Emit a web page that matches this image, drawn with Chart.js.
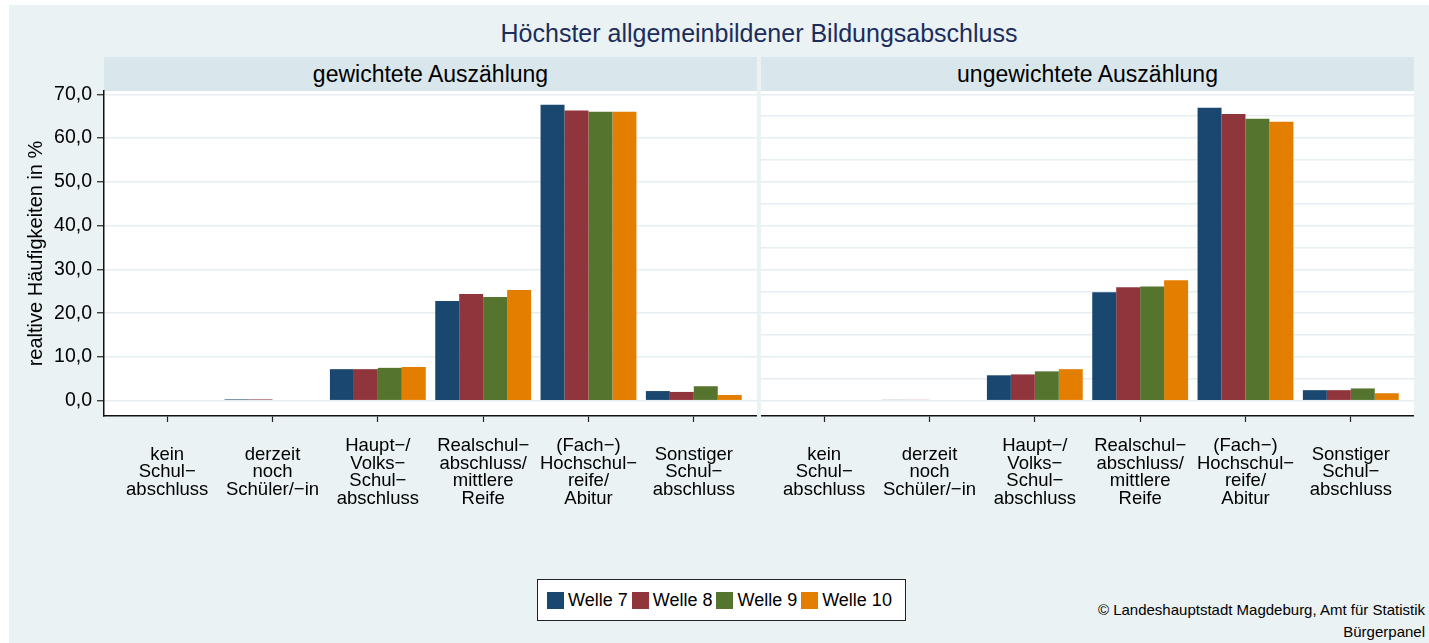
<!DOCTYPE html>
<html>
<head>
<meta charset="utf-8">
<script src="https://cdn.jsdelivr.net/npm/chart.js@4/dist/chart.umd.min.js"></script>
<style>
  body { margin: 0; width: 1429px; height: 643px; overflow: hidden; background: #fff; font-family: "Liberation Sans", Arial, sans-serif; }
  #bg { position: absolute; left: 9px; top: 5px; width: 1420px; height: 638px; background: #eaf2f3; }
  #title { position: absolute; left: 104px; width: 1310px; top: 18px; text-align: center; font-size: 25px; line-height: 30px; color: #1c2d5b; }
  .strip { position: absolute; top: 57px; height: 34px; line-height: 35px; background: #d9e6eb; text-align: center; font-size: 23px; color: #000; }
  .panel { position: absolute; top: 76px; height: 450px; }
  #legend { position: absolute; left: 537px; top: 579px; width: 367px; height: 40px; border: 1px solid #222; background: #fff;
            display: flex; align-items: center; justify-content: center; font-size: 18px; color: #000; }
  #legend span.sw { display: inline-block; width: 17px; height: 17px; margin: 0 4px 0 0; }
  #legend span.it { display: inline-flex; align-items: center; margin-right: 4px; }
  #note { position: absolute; right: 4px; top: 599px; text-align: right; font-size: 15px; line-height: 22px; color: #000; }
</style>
</head>
<body>
<div id="bg"></div>
<div id="title">Höchster allgemeinbildener Bildungsabschluss</div>
<div class="strip" style="left:104px;width:653px;">gewichtete Auszählung</div>
<div class="strip" style="left:761px;width:653px;">ungewichtete Auszählung</div>
<div class="panel" style="left:0;width:757px;"><canvas id="chartLeft"></canvas></div>
<div class="panel" style="left:761px;width:653px;"><canvas id="chartRight"></canvas></div>
<div id="legend"></div>
<div id="note">© Landeshauptstadt Magdeburg, Amt für Statistik<br>Bürgerpanel</div>
<script>
// Kategorien (x-Achse)
const categories = [
  ['kein', 'Schul−', 'abschluss'],
  ['derzeit', 'noch', 'Schüler/−in'],
  ['Haupt−/', 'Volks−', 'Schul−', 'abschluss'],
  ['Realschul−', 'abschluss/', 'mittlere', 'Reife'],
  ['(Fach−)', 'Hochschul−', 'reife/', 'Abitur'],
  ['Sonstiger', 'Schul−', 'abschluss']
];
const waves = ['Welle 7', 'Welle 8', 'Welle 9', 'Welle 10'];
const waveColors = ['#1a476f', '#90353b', '#55752f', '#e37e00'];

// gewichtete Auszählung (%)
const weighted7  = [0, 0.3, 7.2, 22.8, 67.6, 2.2];
const weighted8  = [0, 0.3, 7.2, 24.4, 66.3, 2.0];
const weighted9  = [0, 0.0, 7.5, 23.7, 66.0, 3.3];
const weighted10 = [0, 0.0, 7.7, 25.3, 66.0, 1.3];

// ungewichtete Auszählung (%)
const unweighted7  = [0, 0.2, 5.8, 24.8, 66.9, 2.4];
const unweighted8  = [0, 0.2, 6.0, 25.9, 65.5, 2.4];
const unweighted9  = [0, 0.0, 6.7, 26.1, 64.4, 2.8];
const unweighted10 = [0, 0.0, 7.2, 27.5, 63.7, 1.7];

const yTicks = [0, 10, 20, 30, 40, 50, 60, 70];

const FONT = '"Liberation Sans", Arial, sans-serif';

// weisser Plotbereich
const plotBg = {
  id: 'plotBg',
  beforeDraw(chart) {
    const a = chart.chartArea;
    const ctx = chart.ctx;
    ctx.save();
    ctx.fillStyle = '#ffffff';
    ctx.fillRect(a.left, a.top, a.right - a.left, a.bottom - a.top);
    ctx.restore();
  }
};

// keine automatische Randpolsterung durch Achsenbeschriftungen
function noPad(s) {
  s.paddingTop = 0;
  s.paddingBottom = 0;
  s.paddingLeft = 0;
  s.paddingRight = 0;
}

function makeDatasets(series) {
  return series.map((vals, k) => ({
    label: waves[k],
    data: vals.map((v, i) => ({ x: i, y: v })),
    backgroundColor: waveColors[k],
    borderWidth: 0,
    categoryPercentage: 0.91,
    barPercentage: 1.0
  }));
}

function makeChart(id, series, showY) {
  const ctx = document.getElementById(id).getContext('2d');
  return new Chart(ctx, {
    type: 'bar',
    data: { datasets: makeDatasets(series) },
    plugins: [plotBg],
    options: {
      responsive: true,
      maintainAspectRatio: false,
      animation: false,
      layout: { padding: { top: 15, left: 0, right: 0, bottom: 0 } },
      plugins: { legend: { display: false }, tooltip: { enabled: false } },
      scales: {
        x: {
          type: 'linear',
          min: -0.6,
          max: 5.6,
          offset: false,
          afterFit: s => { s.height = 110; noPad(s); },
          border: { display: true, color: '#111', width: 1.5 },
          grid: { display: true, drawOnChartArea: false, offset: false, tickLength: 6, tickColor: '#222', tickWidth: 1.2 },
          ticks: {
            stepSize: 1,
            includeBounds: false,
            autoSkip: false,
            maxRotation: 0,
            padding: 24,
            crossAlign: 'center',
            color: '#000',
            font: { family: FONT, size: 18.5, lineHeight: 0.95 },
            callback: v => Number.isInteger(v) ? categories[v] : ''
          }
        },
        y: {
          min: -3.5,
          max: 70.75,
          afterFit: s => { s.width = showY ? 104 : 0; noPad(s); },
          border: { display: showY, color: '#111', width: 1.5 },
          grid: { color: '#e6eef1', lineWidth: 1.5, tickLength: 7, tickColor: '#222', tickWidth: 1.2, drawTicks: showY },
          ticks: {
            display: showY,
            stepSize: 5,
            includeBounds: false,
            padding: 5,
            color: '#000',
            font: { family: FONT, size: 19.5 },
            callback: v => yTicks.includes(v) ? v.toFixed(1).replace('.', ',') : ''
          },
          title: {
            display: showY,
            text: 'realtive Häufigkeiten in %',
            color: '#000',
            font: { family: FONT, size: 20 },
            padding: { top: 24, bottom: 0 }
          }
        }
      }
    }
  });
}

makeChart('chartLeft', [weighted7, weighted8, weighted9, weighted10], true);
makeChart('chartRight', [unweighted7, unweighted8, unweighted9, unweighted10], false);

// Legende
const legend = document.getElementById('legend');
waves.forEach((w, k) => {
  const it = document.createElement('span');
  it.className = 'it';
  it.innerHTML = `<span class="sw" style="background:${waveColors[k]}"></span>${w}`;
  legend.appendChild(it);
});
</script>
</body>
</html>
